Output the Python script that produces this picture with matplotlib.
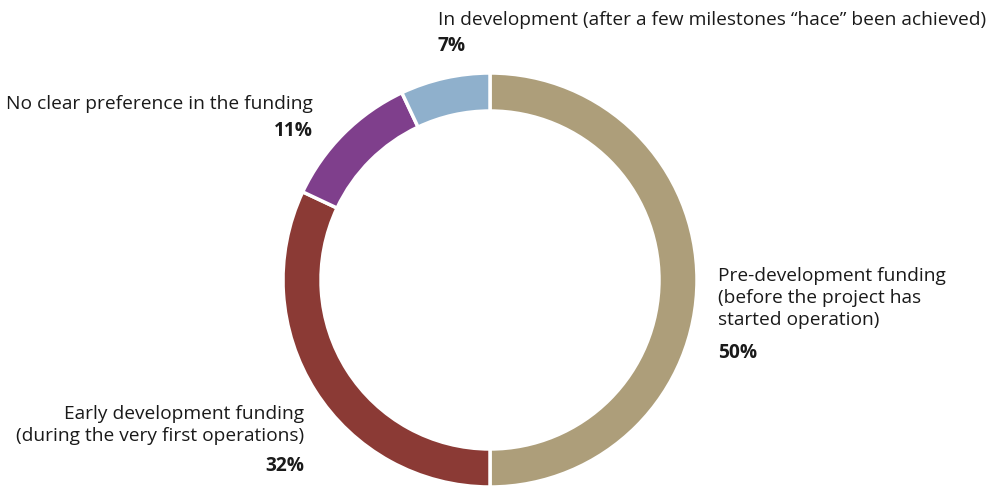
import matplotlib.pyplot as plt

# data
labels = ["Pre-development funding\n(before the project has\nstarted operation)",
          "Early development funding\n(during the very first operations)",
          "No clear preference in the funding",
          "In development (after a few milestones \u201chace\u201d been achieved)"]
shares = [50, 32, 11, 7]
colors = ["#ad9e7a", "#8b3a35", "#7f3f8c", "#8fb0cc"]

plt.rcParams['font.family'] = ['Open Sans', 'DejaVu Sans']

W, H = 990, 486
fig = plt.figure(figsize=(W / 100, H / 100), dpi=100)
ax = fig.add_axes([0, 0, 1, 1])

R = 207
ax.pie(shares, colors=colors, startangle=90, counterclock=False,
       center=(490, H - 280), radius=R, frame=True,
       wedgeprops=dict(width=38, edgecolor='white', linewidth=2.5))
ax.set_xlim(0, W)
ax.set_ylim(0, H)
ax.set_aspect('equal')
ax.axis('off')

fs = 13.8
txt = dict(fontsize=fs, color='#1a1a1a', linespacing=1.3)
# (x, label centre y, ha, pct centre y) in pixels from top
places = [(718, 298, 'left', 353),
          (304, 425, 'right', 466),
          (313, 104, 'right', 131),
          (438, 20, 'left', 46)]
for lab, val, (x, y, ha, py) in zip(labels, shares, places):
    ax.text(x, H - y, lab, ha=ha, va='center', **txt)
    ax.text(x, H - py, f"{val}%", ha=ha, va='center', fontsize=fs,
            fontweight='bold', color='#1a1a1a')

fig.savefig('out.png', dpi=100)
